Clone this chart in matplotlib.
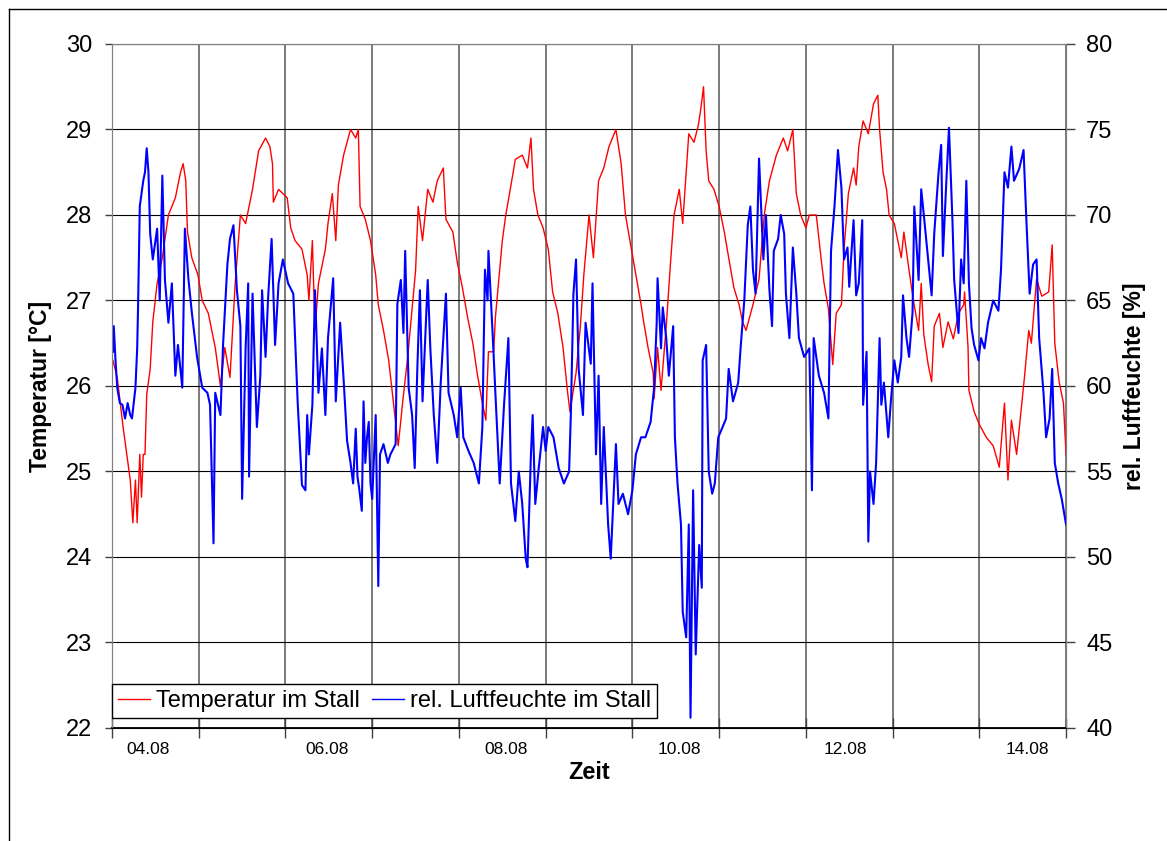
import matplotlib
matplotlib.use("Agg")
import matplotlib.pyplot as plt
from matplotlib.lines import Line2D

# Zeit in Tagen ab Messbeginn
temp_days = [
    0.01, 0.06, 0.13, 0.21, 0.24, 0.27, 0.29, 0.32, 0.34, 0.36, 0.38, 0.40, 0.44, 0.47, 0.52,
    0.58, 0.65, 0.73, 0.79, 0.82, 0.85, 0.87, 0.92, 0.99, 1.04, 1.11, 1.19, 1.25, 1.30, 1.36,
    1.42, 1.48, 1.54, 1.62, 1.69, 1.77, 1.82, 1.85, 1.86, 1.92, 2.02, 2.06, 2.11, 2.19, 2.25,
    2.27, 2.31, 2.34, 2.38, 2.46, 2.49, 2.54, 2.58, 2.61, 2.67, 2.75, 2.81, 2.84, 2.86, 2.92,
    2.98, 3.04, 3.07, 3.13, 3.19, 3.24, 3.30, 3.35, 3.41, 3.46, 3.50, 3.53, 3.58, 3.64, 3.70,
    3.75, 3.82, 3.85, 3.93, 3.98, 4.04, 4.10, 4.16, 4.21, 4.27, 4.31, 4.34, 4.40, 4.42, 4.46,
    4.50, 4.54, 4.60, 4.65, 4.73, 4.79, 4.83, 4.86, 4.91, 4.97, 5.03, 5.08, 5.14, 5.20, 5.25,
    5.28, 5.35, 5.40, 5.44, 5.50, 5.55, 5.61, 5.67, 5.73, 5.81, 5.87, 5.92, 5.98, 6.04, 6.10,
    6.13, 6.18, 6.24, 6.25, 6.29, 6.33, 6.39, 6.44, 6.48, 6.54, 6.58, 6.62, 6.65, 6.71, 6.76,
    6.79, 6.82, 6.85, 6.88, 6.94, 7.00, 7.06, 7.11, 7.17, 7.23, 7.27, 7.31, 7.39, 7.46, 7.52,
    7.58, 7.66, 7.74, 7.79, 7.85, 7.89, 7.94, 8.00, 8.04, 8.12, 8.18, 8.21, 8.26, 8.31, 8.35,
    8.41, 8.44, 8.49, 8.55, 8.58, 8.61, 8.66, 8.72, 8.78, 8.83, 8.85, 8.89, 8.93, 8.96, 9.02,
    9.06, 9.10, 9.13, 9.19, 9.24, 9.30, 9.33, 9.36, 9.41, 9.45, 9.48, 9.54, 9.58, 9.64, 9.70,
    9.76, 9.82, 9.83, 9.87, 9.88, 9.94, 10.00, 10.08, 10.16, 10.23, 10.29, 10.33, 10.37, 10.43, 10.46,
    10.52, 10.57, 10.60, 10.66, 10.72, 10.80, 10.84, 10.87, 10.92, 10.97, 11.00,
]
temp_values = [
    26.3, 26.1, 25.5, 24.9, 24.4, 24.9, 24.4, 25.2, 24.7, 25.2, 25.2, 25.9, 26.2, 26.75, 27.2,
    27.5, 28.0, 28.2, 28.5, 28.6, 28.4, 27.8, 27.5, 27.3, 27.0, 26.85, 26.45, 26.0, 26.45, 26.1,
    27.2, 28.0, 27.9, 28.3, 28.75, 28.9, 28.8, 28.6, 28.15, 28.3, 28.2, 27.85, 27.7, 27.6, 27.3,
    27.0, 27.7, 26.65, 27.2, 27.6, 27.9, 28.25, 27.7, 28.35, 28.7, 29.0, 28.9, 29.0, 28.1, 27.95,
    27.7, 27.3, 26.95, 26.65, 26.3, 25.85, 25.3, 25.8, 26.35, 26.9, 27.35, 28.1, 27.7, 28.3, 28.15,
    28.4, 28.55, 27.95, 27.8, 27.45, 27.15, 26.8, 26.5, 26.15, 25.8, 25.6, 26.4, 26.4, 26.8, 27.25,
    27.7, 28.0, 28.35, 28.65, 28.7, 28.55, 28.9, 28.3, 28.0, 27.85, 27.6, 27.1, 26.85, 26.45, 25.95,
    25.7, 26.15, 26.7, 27.3, 28.0, 27.5, 28.4, 28.55, 28.8, 29.0, 28.6, 28.0, 27.65, 27.3, 26.95,
    26.75, 26.45, 26.15, 25.85, 26.45, 25.95, 26.7, 27.45, 28.0, 28.3, 27.9, 28.5, 28.95, 28.85, 29.05,
    29.25, 29.5, 28.75, 28.4, 28.3, 28.1, 27.8, 27.5, 27.15, 26.95, 26.75, 26.65, 26.95, 27.25, 28.0,
    28.4, 28.7, 28.9, 28.75, 29.0, 28.25, 28.0, 27.85, 28.0, 28.0, 27.45, 27.2, 26.9, 26.25, 26.85,
    26.95, 27.6, 28.25, 28.55, 28.35, 28.8, 29.1, 28.95, 29.3, 29.4, 29.0, 28.5, 28.3, 28.0, 27.9,
    27.7, 27.5, 27.8, 27.35, 27.0, 26.65, 27.2, 26.6, 26.25, 26.05, 26.7, 26.85, 26.45, 26.75, 26.55,
    26.85, 26.95, 27.1, 26.45, 25.95, 25.7, 25.55, 25.4, 25.3, 25.05, 25.8, 24.9, 25.6, 25.2, 25.5,
    26.1, 26.65, 26.5, 27.25, 27.05, 27.1, 27.65, 26.5, 26.05, 25.8, 25.2,
]

hum_days = [
    0.01, 0.02, 0.04, 0.06, 0.09, 0.12, 0.15, 0.18, 0.21, 0.23, 0.27, 0.29, 0.30, 0.32, 0.36,
    0.38, 0.40, 0.42, 0.44, 0.47, 0.52, 0.55, 0.58, 0.61, 0.65, 0.69, 0.73, 0.76, 0.81, 0.84,
    0.88, 0.92, 0.98, 1.04, 1.10, 1.13, 1.17, 1.19, 1.25, 1.28, 1.33, 1.36, 1.40, 1.44, 1.48,
    1.50, 1.54, 1.57, 1.58, 1.62, 1.67, 1.71, 1.73, 1.77, 1.80, 1.84, 1.88, 1.92, 1.97, 2.03,
    2.09, 2.14, 2.19, 2.23, 2.25, 2.27, 2.31, 2.34, 2.38, 2.42, 2.46, 2.49, 2.55, 2.58, 2.63,
    2.67, 2.71, 2.75, 2.78, 2.81, 2.83, 2.85, 2.88, 2.90, 2.92, 2.94, 2.96, 2.98, 3.00, 3.04,
    3.07, 3.09, 3.13, 3.18, 3.21, 3.27, 3.29, 3.33, 3.36, 3.38, 3.42, 3.46, 3.49, 3.52, 3.55,
    3.58, 3.64, 3.67, 3.71, 3.75, 3.79, 3.85, 3.88, 3.94, 3.98, 4.02, 4.05, 4.11, 4.17, 4.23,
    4.27, 4.30, 4.33, 4.34, 4.39, 4.42, 4.47, 4.52, 4.57, 4.60, 4.65, 4.69, 4.73, 4.77, 4.79,
    4.83, 4.85, 4.88, 4.92, 4.97, 5.00, 5.03, 5.09, 5.15, 5.21, 5.27, 5.29, 5.32, 5.35, 5.38,
    5.43, 5.46, 5.52, 5.54, 5.58, 5.61, 5.64, 5.67, 5.72, 5.75, 5.81, 5.84, 5.89, 5.95, 6.00,
    6.04, 6.10, 6.15, 6.21, 6.25, 6.28, 6.29, 6.33, 6.35, 6.39, 6.42, 6.47, 6.49, 6.52, 6.56,
    6.58, 6.62, 6.65, 6.67, 6.70, 6.73, 6.77, 6.80, 6.81, 6.85, 6.88, 6.92, 6.95, 6.99, 7.04,
    7.08, 7.11, 7.16, 7.22, 7.25, 7.29, 7.33, 7.36, 7.39, 7.42, 7.46, 7.51, 7.54, 7.58, 7.61,
    7.63, 7.68, 7.71, 7.75, 7.77, 7.81, 7.85, 7.89, 7.92, 7.98, 8.04, 8.07, 8.09, 8.15, 8.21,
    8.26, 8.29, 8.33, 8.37, 8.41, 8.44, 8.48, 8.50, 8.55, 8.58, 8.61, 8.65, 8.66, 8.70, 8.72,
    8.74, 8.78, 8.81, 8.85, 8.87, 8.90, 8.95, 8.98, 9.02, 9.06, 9.10, 9.12, 9.16, 9.19, 9.23,
    9.25, 9.30, 9.33, 9.36, 9.41, 9.45, 9.48, 9.53, 9.56, 9.58, 9.62, 9.65, 9.69, 9.71, 9.76,
    9.79, 9.82, 9.85, 9.88, 9.91, 9.94, 9.99, 10.02, 10.06, 10.10, 10.16, 10.22, 10.25, 10.29, 10.33,
    10.37, 10.40, 10.46, 10.51, 10.54, 10.58, 10.62, 10.66, 10.69, 10.74, 10.77, 10.81, 10.84, 10.87, 10.91,
    10.95, 10.98, 11.00,
]
hum_values = [
    62.0, 63.5, 61.5, 59.9, 59.0, 58.9, 58.1, 59.0, 58.3, 58.1, 59.9, 62.2, 64.6, 70.5, 72.0,
    72.5, 73.9, 72.5, 68.9, 67.4, 69.2, 65.0, 72.3, 66.2, 63.7, 66.0, 60.6, 62.4, 59.9, 69.2,
    66.3, 64.3, 61.7, 59.9, 59.6, 58.9, 50.8, 59.6, 58.3, 62.4, 67.1, 68.6, 69.4, 65.6, 63.5,
    53.4, 62.2, 66.0, 54.7, 65.4, 57.6, 60.6, 65.6, 61.7, 65.2, 68.6, 62.4, 66.0, 67.4, 66.0,
    65.4, 59.1, 54.2, 53.9, 58.3, 56.0, 58.9, 65.6, 59.6, 62.2, 58.3, 62.8, 66.3, 59.1, 63.7,
    60.4, 56.8, 55.5, 54.3, 57.5, 54.7, 54.0, 52.7, 59.1, 55.5, 57.0, 57.9, 54.3, 53.4, 58.3,
    48.3, 56.0, 56.6, 55.5, 56.0, 56.6, 64.8, 66.2, 63.1, 67.9, 59.9, 58.3, 55.2, 61.0, 65.6,
    59.1, 66.2, 62.2, 58.3, 55.5, 60.2, 65.4, 59.6, 58.3, 57.0, 59.9, 57.0, 56.2, 55.5, 54.3,
    57.6, 66.8, 65.0, 67.9, 62.9, 59.6, 54.3, 58.9, 62.8, 54.3, 52.1, 55.0, 53.1, 49.9, 49.4,
    56.0, 58.3, 53.1, 55.2, 57.6, 56.2, 57.6, 57.0, 55.2, 54.3, 55.0, 58.3, 65.4, 67.4, 61.0,
    58.3, 63.7, 61.3, 66.0, 56.0, 60.6, 53.1, 57.6, 51.9, 49.9, 56.6, 53.1, 53.7, 52.5, 53.9,
    56.0, 57.0, 57.0, 57.9, 59.9, 63.7, 66.3, 62.2, 64.6, 62.8, 60.6, 63.5, 57.0, 54.3, 51.9,
    46.8, 45.3, 51.9, 40.6, 53.9, 44.3, 50.7, 48.2, 61.5, 62.4, 55.0, 53.7, 54.3, 57.0, 57.6,
    58.1, 61.0, 59.1, 60.2, 62.4, 65.0, 69.4, 70.5, 66.8, 65.4, 73.3, 67.4, 70.0, 65.6, 63.5,
    67.9, 68.6, 70.0, 68.9, 65.4, 62.8, 68.1, 65.4, 62.8, 61.7, 62.2, 53.9, 62.8, 60.6, 59.6,
    58.1, 67.9, 70.5, 73.8, 71.6, 67.4, 68.1, 65.8, 69.7, 65.3, 66.0, 69.7, 58.9, 62.0, 50.9,
    55.0, 53.1, 55.5, 62.8, 58.9, 60.2, 57.0, 59.1, 61.5, 60.2, 61.7, 65.3, 62.8, 61.7, 64.3,
    70.5, 66.2, 71.5, 70.0, 67.4, 65.3, 68.9, 72.5, 74.1, 67.6, 72.0, 75.1, 69.7, 66.2, 63.1,
    67.4, 66.0, 72.0, 66.0, 63.4, 62.4, 61.5, 62.8, 62.2, 63.7, 65.0, 64.4, 66.8, 72.5, 71.6,
    74.0, 72.0, 72.7, 73.8, 70.0, 65.4, 67.1, 67.4, 62.8, 59.6, 57.0, 58.1, 61.0, 55.5, 54.3,
    53.4, 52.5, 51.9,
]

date_labels = ["04.08", "06.08", "08.08", "10.08", "12.08", "14.08"]
date_label_days = [0.42, 2.48, 4.54, 6.54, 8.45, 10.55]

plt.rcParams["font.family"] = ["Liberation Sans", "DejaVu Sans"]

fig = plt.figure(figsize=(11.67, 8.41), dpi=100)
ax = fig.add_axes([0.0960, 0.1344, 0.8175, 0.8133])
ax2 = ax.twinx()

line_t, = ax.plot(temp_days, temp_values, color="#ff0000", lw=1.0)
line_h, = ax2.plot(hum_days, hum_values, color="#0000ff", lw=1.5)

ax.set_xlim(0, 11)
ax.set_ylim(22, 30)
ax2.set_ylim(40, 80)

ax.set_xticks(range(0, 12))
ax.set_xticklabels([])
ax.set_xticks(date_label_days, minor=True)
ax.set_xticklabels(date_labels, minor=True)
ax.tick_params(axis="x", which="major", direction="inout", length=14, width=1, color="#404040")
ax.tick_params(axis="x", which="minor", length=0, pad=10, labelsize=12.5)

ax.set_yticks(range(22, 31))
ax2.set_yticks(range(40, 81, 5))
ax.tick_params(axis="y", direction="out", length=5, width=1, pad=9, labelsize=17, color="#404040")
ax2.tick_params(axis="y", direction="out", length=6.5, width=1, pad=8, labelsize=17, color="#404040")

ax.grid(axis="x", which="major", color="#707070", lw=1.3)
ax.grid(axis="y", color="black", lw=0.8)
ax.set_axisbelow(True)

for side in ["left", "right", "top"]:
    ax.spines[side].set_color("#808080")
    ax2.spines[side].set_color("#808080")
ax.spines["bottom"].set_linewidth(1.3)

ax.set_xlabel("Zeit", fontsize=17, fontweight="bold", labelpad=3)
ax.set_ylabel("Temperatur [°C]", fontsize=16.5, fontweight="bold")
ax.yaxis.set_label_coords(-0.0629, 0.5)
ax2.set_ylabel("rel. Luftfeuchte [%]", fontsize=16.5, fontweight="bold", rotation=90)
ax2.yaxis.set_label_coords(1.0597, 0.5)

leg = ax2.legend([line_t, line_h], ["Temperatur im Stall", "rel. Luftfeuchte im Stall"],
                 loc="lower left", bbox_to_anchor=(0, 0.0146), borderaxespad=0, ncol=2,
                 fontsize=17, frameon=True, fancybox=False, framealpha=1,
                 handlelength=1.36, handletextpad=0.25, columnspacing=0.5, borderpad=0.25)
leg.get_frame().set_edgecolor("black")
leg.get_frame().set_linewidth(1.0)
for h in leg.get_lines():
    h.set_linewidth(1.0)

# Rahmen des Diagrammbereichs
fig.add_artist(Line2D([9 / 1167, 9 / 1167], [0, 1 - 9 / 841], color="black", lw=1))
fig.add_artist(Line2D([9 / 1167, 1], [1 - 9 / 841, 1 - 9 / 841], color="black", lw=1))

fig.savefig("out.png", dpi=100)
